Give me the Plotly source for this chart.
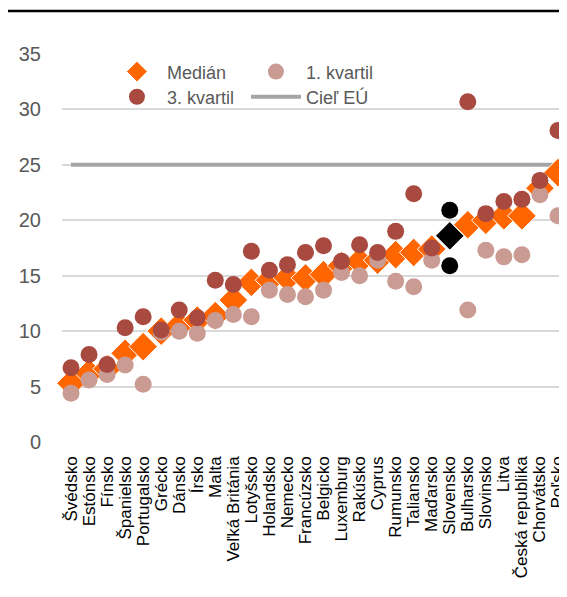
import plotly.graph_objects as go

categories = ["Švédsko", "Estónsko", "Fínsko", "Španielsko", "Portugalsko", "Grécko",
              "Dánsko", "Írsko", "Malta", "Veľká Británia", "Lotyšsko", "Holandsko",
              "Nemecko", "Francúzsko", "Belgicko", "Luxemburg", "Rakúsko", "Cyprus",
              "Rumunsko", "Taliansko", "Maďarsko", "Slovensko", "Bulharsko", "Slovinsko",
              "Litva", "Česká republika", "Chorvátsko", "Poľsko"]
median = [5.3, 6.2, 6.6, 8.0, 8.6, 10.0, 10.5, 11.0, 11.4, 12.8, 14.4, 14.6,
          14.8, 14.8, 15.1, 15.9, 16.3, 16.4, 16.9, 17.1, 17.4, 18.6, 19.6, 20.0,
          20.4, 20.4, 22.9, 24.3]
q1 = [4.4, 5.6, 6.1, 6.95, 5.2, 9.9, 10.0, 9.8, 10.95, 11.5, 11.3, 13.7,
      13.3, 13.1, 13.7, 15.3, 15.0, 16.4, 14.5, 14.0, 16.4, 15.9, 11.9, 17.3,
      16.7, 16.9, 22.3, 20.4]
q3 = [6.7, 7.9, 7.0, 10.3, 11.3, 10.1, 11.9, 11.2, 14.6, 14.2, 17.2, 15.5,
      16.0, 17.1, 17.7, 16.3, 17.8, 17.1, 19.0, 22.4, 17.5, 20.9, 30.7, 20.6,
      21.7, 21.9, 23.6, 28.1]
eu_target = 25
highlight = "Slovensko"
y_ticks = [0, 5, 10, 15, 20, 25, 30, 35]

ORANGE = "#FF6600"
DARK = "#A84A40"
LIGHT = "#C99B93"
GRAY = "#A5A5A5"
TEXT = "#595959"
FONT = "Liberation Sans, Arial, sans-serif"

def colors(base):
    return ["#000000" if c == highlight else base for c in categories]

fig = go.Figure()
fig.add_trace(go.Scatter(
    x=[categories[0], categories[-1]], y=[eu_target, eu_target], mode="lines",
    name="Cieľ EÚ", line=dict(color=GRAY, width=4), legend="legend2",
    legendrank=2, hoverinfo="skip"))
fig.add_trace(go.Scatter(
    x=categories, y=median, mode="markers", name="Medián",
    marker=dict(symbol="diamond", size=22, color=colors(ORANGE),
                line=dict(color="white", width=1)),
    cliponaxis=False, legend="legend", legendrank=1))
fig.add_trace(go.Scatter(
    x=categories, y=q1, mode="markers", name="1. kvartil",
    marker=dict(symbol="circle", size=17, color=colors(LIGHT)),
    cliponaxis=False, legend="legend", legendrank=2))
fig.add_trace(go.Scatter(
    x=categories, y=q3, mode="markers", name="3. kvartil",
    marker=dict(symbol="circle", size=17, color=colors(DARK)),
    cliponaxis=False, legend="legend2", legendrank=1))

legend_common = dict(orientation="h", xanchor="left", yanchor="middle",
                     font=dict(family=FONT, size=18, color=TEXT),
                     entrywidth=74, itemwidth=50, bgcolor="rgba(0,0,0,0)",
                     itemclick=False, tracegroupgap=0, traceorder="normal")
fig.update_layout(
    width=559, height=589,
    margin=dict(l=54, r=0, t=46, b=155),
    paper_bgcolor="white", plot_bgcolor="white",
    font=dict(family=FONT, size=18, color=TEXT),
    showlegend=True,
    legend=dict(x=0.089, y=0.954, **legend_common),
    legend2=dict(x=0.089, y=0.889, **legend_common),
    xaxis=dict(type="category", categoryorder="array", categoryarray=categories,
               tickmode="array", tickvals=categories, ticktext=categories,
               range=[-0.5, 27.5], showgrid=False, zeroline=False,
               showline=False, tickangle=-90, ticks="", ticklabelstandoff=10,
               tickfont=dict(family=FONT, size=17, color="#000000")),
    yaxis=dict(range=[0, 35], tickvals=y_ticks, showgrid=True, gridcolor="#D9D9D9",
               gridwidth=1.5, zeroline=False, showline=False, ticks="",
               ticklabelstandoff=20,
               tickfont=dict(family=FONT, size=20, color=TEXT)),
    shapes=[dict(type="line", xref="paper", yref="paper", x0=-0.107, x1=1.0,
                 y0=1.111, y1=1.111, line=dict(color="black", width=2.5))],
)
fig.write_html("out.html")
